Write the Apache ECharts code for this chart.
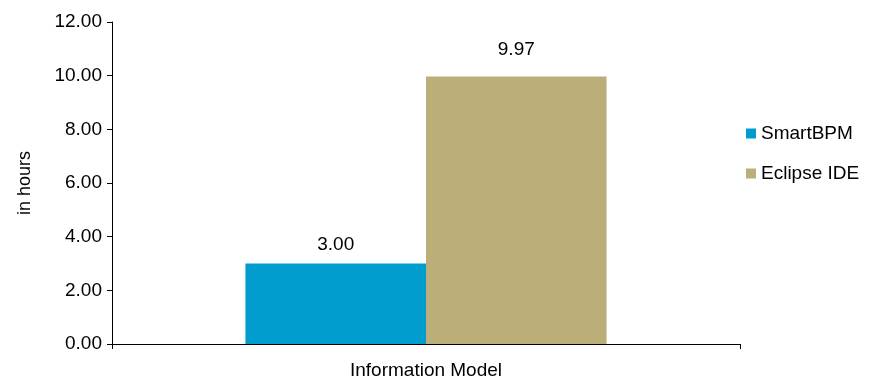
<!DOCTYPE html>
<html>
<head>
<meta charset="utf-8">
<script src="https://cdn.jsdelivr.net/npm/echarts@6/dist/echarts.min.js"></script>
<style>
  html, body { margin: 0; padding: 0; background: #fff; }
  #chart { width: 876px; height: 382px; }
</style>
</head>
<body>
<div id="chart"></div>
<script>
const categories = ["Information Model"];
const smartBpm = [3.0];
const eclipseIde = [9.97];

const font = "'Liberation Sans', Arial, sans-serif";

const chart = echarts.init(document.getElementById("chart"));

// etiqueta em cima de cada barra
function barLabel(distance) {
  return {
    show: true,
    position: "top",
    distance: distance,
    color: "#000",
    fontSize: 19,
    fontFamily: font,
    formatter: (p) => p.value.toFixed(2),
  };
}

chart.setOption({
  animation: false,
  textStyle: { fontFamily: font },
  grid: {
    left: 112,
    right: 136,
    top: 22,
    bottom: 38,
    containLabel: false,
    outerBoundsMode: "none",
  },
  legend: {
    orient: "vertical",
    left: 746,
    top: 124,
    padding: 0,
    itemWidth: 10,
    itemHeight: 10,
    itemGap: 21,
    icon: "rect",
    textStyle: { fontFamily: font, fontSize: 19, color: "#000" },
  },
  xAxis: {
    type: "category",
    data: categories,
    axisLine: { lineStyle: { color: "#000", width: 1 } },
    axisTick: { show: true, length: 5, lineStyle: { color: "#000" } },
    axisLabel: { color: "#000", fontSize: 19, margin: 17, fontFamily: font },
  },
  yAxis: {
    type: "value",
    min: 0,
    max: 12,
    interval: 2,
    name: "in hours",
    nameLocation: "middle",
    nameGap: 78,
    nameTextStyle: { color: "#000", fontSize: 18, fontFamily: font },
    axisLine: { show: true, lineStyle: { color: "#000", width: 1 } },
    axisTick: { show: true, length: 5, lineStyle: { color: "#000" } },
    axisLabel: {
      color: "#000",
      fontSize: 19,
      margin: 10,
      fontFamily: font,
      formatter: (v) => v.toFixed(2),
    },
    splitLine: { show: false },
  },
  series: [
    {
      name: "SmartBPM",
      type: "bar",
      data: smartBpm,
      barGap: "0%",
      barCategoryGap: "42.5%",
      itemStyle: { color: "#009CCE" },
      label: barLabel(9),
    },
    {
      name: "Eclipse IDE",
      type: "bar",
      data: eclipseIde,
      barGap: "0%",
      barCategoryGap: "42.5%",
      itemStyle: { color: "#BBAE78" },
      label: barLabel(17),
    },
  ],
});

window.addEventListener("resize", function () {
  chart.resize();
});
</script>
</body>
</html>
